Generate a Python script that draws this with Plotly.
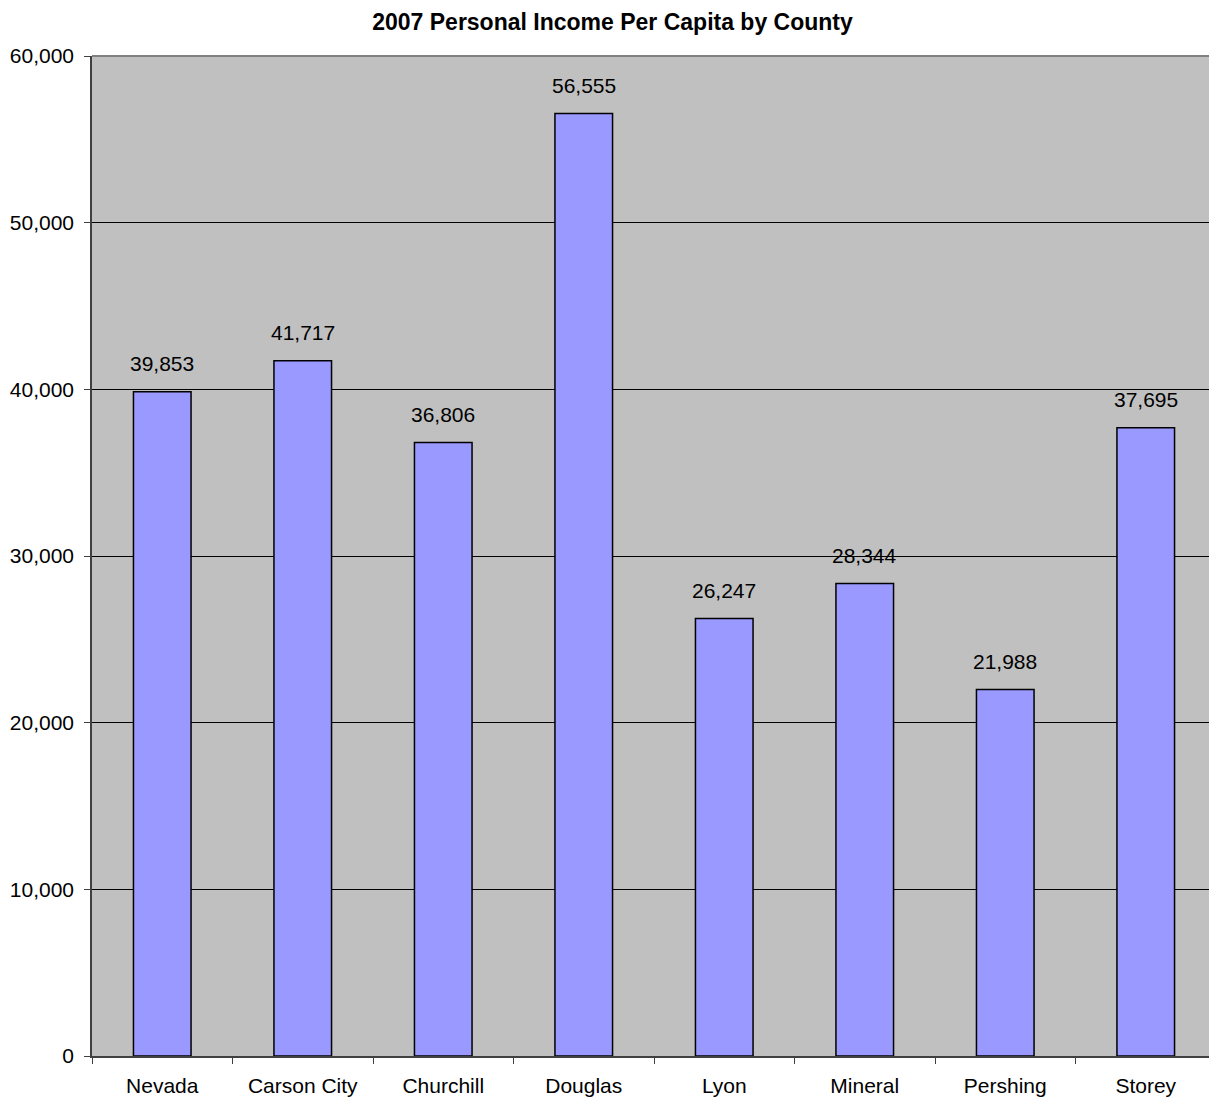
import plotly.graph_objects as go

counties = ["Nevada", "Carson City", "Churchill", "Douglas", "Lyon", "Mineral", "Pershing", "Storey"]
income = [39853, 41717, 36806, 56555, 26247, 28344, 21988, 37695]
y_ticks = [0, 10000, 20000, 30000, 40000, 50000, 60000]
y_labels = ["0", "10,000", "20,000", "30,000", "40,000", "50,000", "60,000"]

font = "Liberation Sans, Arial, sans-serif"

fig = go.Figure(go.Bar(
    x=counties,
    y=income,
    width=0.41,
    marker=dict(color="#9999FF", line=dict(color="black", width=1.5)),
    hoverinfo="x+y",
))

# value labels above each bar
for c, v in zip(counties, income):
    fig.add_annotation(x=c, y=v, text=f"{v:,}", showarrow=False,
                       yshift=28, font=dict(family=font, size=21, color="black"))

# page body has an 8px margin, so the figure is a bit smaller than the window
fig.update_layout(
    width=1209, height=1091,
    margin=dict(l=84, r=1, t=48, b=43),
    paper_bgcolor="white",
    plot_bgcolor="#C0C0C0",
    showlegend=False,
    bargap=0.59,
    title=dict(text="<b>2007 Personal Income Per Capita by County</b>",
               x=0.5, xanchor="center", y=1 - 14 / 1091, yanchor="middle",
               font=dict(family=font, size=23, color="black")),
    font=dict(family=font, size=21, color="black"),
)

fig.update_xaxes(
    showline=True, linecolor="#404040", linewidth=1.5,
    ticks="outside", ticklen=6, tickcolor="#404040",
    tickson="boundaries", showgrid=False,
    tickfont=dict(family=font, size=21, color="black"),
    ticklabelstandoff=10,
)
fig.update_yaxes(
    range=[0, 60000], tickvals=y_ticks, ticktext=y_labels,
    showline=True, linecolor="#404040", linewidth=1.5,
    ticks="outside", ticklen=6, tickcolor="#404040",
    showgrid=True, gridcolor="black", gridwidth=1,
    zeroline=False,
    tickfont=dict(family=font, size=21, color="black"),
    ticklabelstandoff=6,
)

# gray border on top and right of plot area
fig.add_shape(type="line", xref="paper", yref="paper", x0=0, x1=1, y0=1, y1=1,
              line=dict(color="#808080", width=2))
fig.add_shape(type="line", xref="paper", yref="paper", x0=1, x1=1, y0=0, y1=1,
              line=dict(color="#808080", width=2))

fig.write_html("out.html")
